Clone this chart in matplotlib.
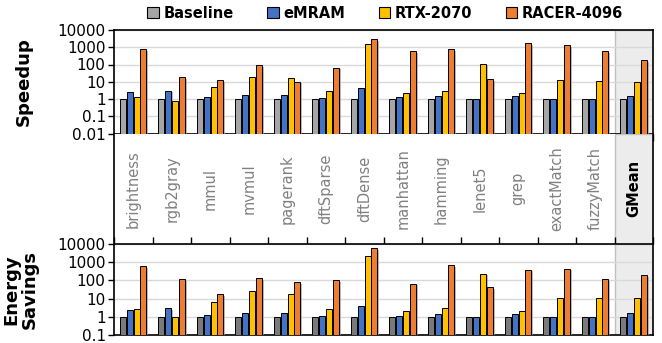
import numpy as np
import matplotlib
matplotlib.use("Agg")
import matplotlib.pyplot as plt
import matplotlib.patheffects as pe
from matplotlib.patches import Rectangle

categories = ["brightness", "rgb2gray", "mmul", "mvmul", "pagerank", "dftSparse",
              "dftDense", "manhattan", "hamming", "lenet5", "grep", "exactMatch",
              "fuzzyMatch", "GMean"]
series = ["Baseline", "eMRAM", "RTX-2070", "RACER-4096"]

# speedup over baseline
speed_baseline = [1] * 14
speed_emram = [2.5, 3.0, 1.25, 1.7, 1.7, 1.1, 4.1, 1.3, 1.43, 1.0, 1.43, 1.0, 1.0, 1.56]
speed_rtx = [1.25, 0.77, 5.1, 20, 17, 3.0, 1630, 2.3, 3.0, 114, 2.2, 12, 11.4, 9.1]
speed_racer = [760, 18.6, 12, 92, 10, 67, 3000, 590, 800, 13.7, 1700, 1300, 590, 185]

# energy savings over baseline
energy_baseline = [1] * 14
energy_emram = [2.5, 3.0, 1.28, 1.7, 1.7, 1.04, 4.05, 1.13, 1.5, 1.0, 1.5, 1.0, 1.0, 1.57]
energy_rtx = [2.6, 1.0, 6.4, 26, 19, 2.8, 2280, 2.2, 2.9, 237, 2.2, 10.8, 10.5, 10.8]
energy_racer = [590, 118, 17, 133, 81, 100, 5900, 66, 690, 42, 390, 440, 118, 186]

speed_ticks = [0.01, 0.1, 1, 10, 100, 1000, 10000]
energy_ticks = [0.1, 1, 10, 100, 1000, 10000]

blue = "#4472C4"
yellow = "#FFC000"
orange = "#ED7D31"
shade = "#ececec"

fig = plt.figure(figsize=(6.62, 3.43), dpi=100)
L, W = 114 / 662, 539 / 662
ax_top = fig.add_axes([L, 1 - 133.5 / 343, W, 103.5 / 343])
ax_mid = fig.add_axes([L, 1 - 244 / 343, W, 110.5 / 343])
ax_bot = fig.add_axes([L, 1 - 335 / 343, W, 91 / 343])

n = len(categories)
x = np.arange(n)
offsets = [0.229, 0.408, 0.587, 0.766]
bw = 0.156
shadow = [pe.SimplePatchShadow(offset=(1.2, -1.2), shadow_rgbFace="#999999", alpha=0.7), pe.Normal()]


def draw_panel(ax, data, colors, ticks):
    ax.axvspan(n - 1, n, facecolor=shade, edgecolor="#c0c0c0", lw=1, zorder=0)
    for vals, off, c in zip(data, offsets, colors):
        bars = ax.bar(x + off, vals, bw, color=c, edgecolor="black", lw=0.7, zorder=3)
        for b in bars:
            b.set_path_effects(shadow)
    ax.set_yscale("log")
    ax.set_ylim(ticks[0], ticks[-1])
    ax.set_xlim(0, n)
    ax.set_yticks(ticks)
    ax.set_yticklabels([f"{t:g}" for t in ticks])
    ax.yaxis.set_minor_locator(matplotlib.ticker.NullLocator())
    ax.grid(axis="y", color="#d9d9d9", lw=1, zorder=1)
    ax.tick_params(axis="y", labelsize=11, length=4, width=1, colors="black", pad=2)
    ax.set_xticks(np.arange(n + 1))
    ax.set_xticklabels([])
    for s in ax.spines.values():
        s.set_linewidth(1.2)


draw_panel(ax_top, [speed_baseline, speed_emram, speed_rtx, speed_racer],
           ["#a6a6a6", blue, yellow, orange], speed_ticks)
ax_top.tick_params(axis="x", length=5, width=1, direction="out")
ax_top.set_ylabel("Speedup", fontsize=13, fontweight="bold")
ax_top.yaxis.set_label_coords(-0.15, 0.5)

draw_panel(ax_bot, [energy_baseline, energy_emram, energy_rtx, energy_racer],
           ["#7a7a7a", blue, yellow, orange], energy_ticks)
ax_bot.tick_params(axis="x", bottom=False, top=True, length=5, width=1, direction="out")
ax_bot.set_ylabel("Energy\nSavings", fontsize=13, fontweight="bold", linespacing=1.0)
ax_bot.yaxis.set_label_coords(-0.14, 0.5)

# category label strip
ax_mid.set_xlim(0, n)
ax_mid.set_ylim(0, 1)
ax_mid.set_xticks([])
ax_mid.set_yticks([])
for s in ["top", "right", "bottom"]:
    ax_mid.spines[s].set_visible(False)
ax_mid.spines["left"].set_linewidth(1.2)
ax_mid.add_patch(Rectangle((n - 1, 0), 1, 1, facecolor=shade, edgecolor="#c0c0c0", lw=1, zorder=0))
ax_mid.plot([n, n], [0, 1], color="black", lw=1.2, clip_on=False)
for i, cat in enumerate(categories):
    if cat == "GMean":
        ax_mid.text(i + 0.5, 0.5, cat, rotation=90, ha="center", va="center",
                    fontsize=10.5, fontweight="bold", color="black")
    else:
        ax_mid.text(i + 0.5, 0.5, cat, rotation=90, ha="center", va="center",
                    fontsize=10.5, color="#808080")

# legend
handles = [Rectangle((0, 0), 1, 1, facecolor=c, edgecolor="black", lw=0.8)
           for c in ["#a6a6a6", blue, yellow, orange]]
fig.legend(handles, series, loc="center", bbox_to_anchor=(0.582, 0.962), ncol=4, frameon=False,
           prop={"weight": "bold", "size": 10.5}, handlelength=0.8, handleheight=0.8,
           handletextpad=0.3, columnspacing=2.3, borderaxespad=0)

fig.savefig("out.png", dpi=100)
